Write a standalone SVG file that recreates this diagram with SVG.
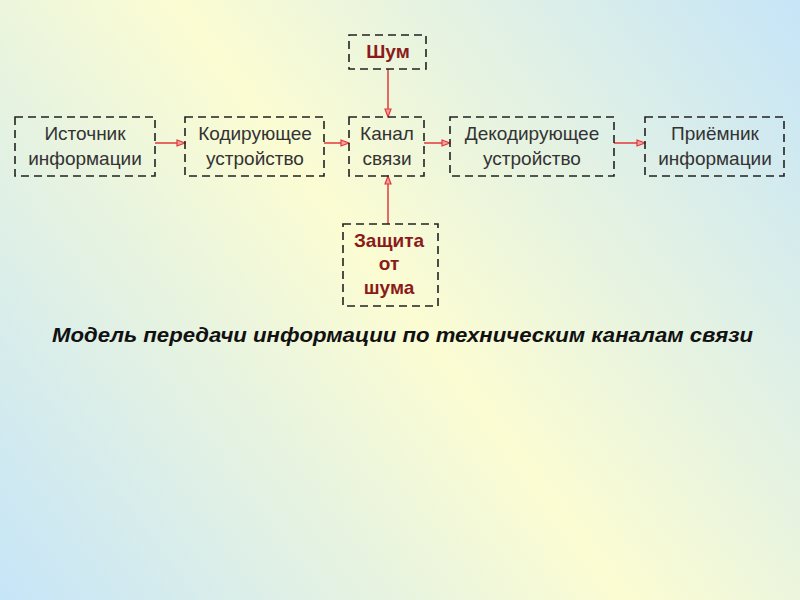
<svg xmlns="http://www.w3.org/2000/svg" width="800" height="600" viewBox="0 0 800 600">
<defs>
<linearGradient id="bg" gradientUnits="userSpaceOnUse" x1="800" y1="0" x2="0" y2="600">
<stop offset="0" stop-color="#c6e5f8"/>
<stop offset="0.5" stop-color="#fbfcd2"/>
<stop offset="1" stop-color="#c6e5f8"/>
</linearGradient>
<marker id="arr" viewBox="0 0 10 10" refX="9" refY="5" markerWidth="10" markerHeight="10" markerUnits="userSpaceOnUse" orient="auto">
<path d="M1,2 L9,5 L1,8 Z" fill="#f4a0a0" stroke="#e03a3a" stroke-width="1.2"/>
</marker>
<style>
.box{fill:none;stroke:#222;stroke-width:1.6;stroke-dasharray:8,5}
.t{font-family:"Liberation Sans",Arial,sans-serif;font-size:19px;fill:#333;text-anchor:middle}
.r{font-family:"Liberation Sans",Arial,sans-serif;font-size:19px;font-weight:bold;fill:#8b1a1a;text-anchor:middle}
.c{stroke:#e03a3a;stroke-width:1.5;fill:none;marker-end:url(#arr)}
</style>
</defs>
<rect width="800" height="600" fill="url(#bg)"/>
<g id="connectors">
<line class="c" x1="155" y1="143" x2="185" y2="143"/>
<line class="c" x1="324" y1="143" x2="349" y2="143"/>
<line class="c" x1="424" y1="143" x2="450" y2="143"/>
<line class="c" x1="614" y1="143" x2="645" y2="143"/>
<line class="c" x1="388" y1="69" x2="388" y2="117"/>
<line class="c" x1="388" y1="224" x2="388" y2="176"/>
</g>
<g id="source">
<rect class="box" x="15" y="117" width="140" height="59"/>
<text class="t" x="85" y="140">Источник</text>
<text class="t" x="85" y="165">информации</text>
</g>
<g id="encoder">
<rect class="box" x="185" y="117" width="139" height="59"/>
<text class="t" x="255" y="140">Кодирующее</text>
<text class="t" x="255" y="165">устройство</text>
</g>
<g id="channel">
<rect class="box" x="349" y="117" width="75" height="59"/>
<text class="t" x="387" y="140">Канал</text>
<text class="t" x="387" y="165">связи</text>
</g>
<g id="decoder">
<rect class="box" x="450" y="117" width="164" height="59"/>
<text class="t" x="532" y="140">Декодирующее</text>
<text class="t" x="532" y="165">устройство</text>
</g>
<g id="receiver">
<rect class="box" x="645" y="117" width="139" height="59"/>
<text class="t" x="715" y="140">Приёмник</text>
<text class="t" x="715" y="165">информации</text>
</g>
<g id="noise">
<rect class="box" x="349" y="35" width="77" height="34"/>
<text class="r" x="388" y="58">Шум</text>
</g>
<g id="protection">
<rect class="box" x="343" y="224" width="95" height="82"/>
<text class="r" x="389" y="247">Защита</text>
<text class="r" x="389" y="270">от</text>
<text class="r" x="389" y="294">шума</text>
</g>
<text x="52" y="342" font-family="'Liberation Sans',Arial,sans-serif" font-size="21" font-weight="bold" font-style="italic" fill="#111" textLength="701" lengthAdjust="spacingAndGlyphs">Модель передачи информации по техническим каналам связи</text>
</svg>
